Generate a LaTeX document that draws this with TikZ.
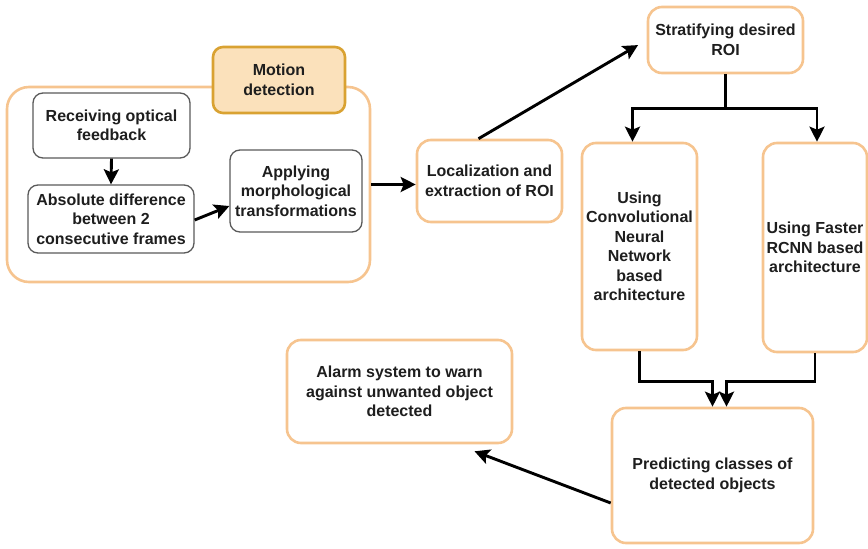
\documentclass[tikz,border=0pt]{standalone}
\usepackage{fontspec}
\setmainfont{Liberation Sans}
\usetikzlibrary{arrows.meta,positioning,calc}
\definecolor{boxorange}{HTML}{F6C48F}
\definecolor{tabfill}{HTML}{FBE1BB}
\definecolor{tabline}{HTML}{D9A232}
\definecolor{grayline}{HTML}{5A5A5A}
\definecolor{textgray}{HTML}{1E1E1E}

\begin{document}
\begin{tikzpicture}[x=1pt,y=-1pt] % one unit = one pixel of the sketch, y runs down
\tikzset{every node/.style={font=\bfseries\fontsize{16}{19.5}\selectfont, text=textgray, align=center, inner sep=0pt}}
\tikzset{obox/.style={draw=boxorange, line width=2.6pt, fill=white, rounded corners=14pt}}
\tikzset{gbox/.style={draw=grayline, line width=1.3pt, fill=white, rounded corners=10pt}}
\tikzset{tabbox/.style={draw=tabline, line width=2.6pt, fill=tabfill, rounded corners=10pt}}
\tikzset{arr/.style={line width=2.9pt, -{Stealth[length=15pt,width=15pt,inset=3pt]}}}
\useasboundingbox (0,0) rectangle (868,549);

% motion detection group
\node[obox, rounded corners=22pt, minimum width=363pt, minimum height=195pt] (motion) at (188.5,184.5) {};
\node[tabbox, minimum width=132pt, minimum height=66pt] (tab) at (279,80) {Motion\\detection};
\node[gbox, minimum width=157pt, minimum height=65pt] (recv) at (111.5,125.5) {Receiving optical\\feedback};
\node[gbox, minimum width=166pt, minimum height=68pt] (absdiff) at (111,219) {Absolute difference\\between 2\\consecutive frames};
\node[gbox, minimum width=132pt, minimum height=82pt] (morph) at (296,191) {Applying\\morphological\\transformations};

% ROI and detectors
\node[obox, minimum width=145pt, minimum height=82pt] (loc) at (489.5,181) {Localization and\\extraction of ROI};
\node[obox, minimum width=155pt, minimum height=66pt] (strat) at (725.5,40) {Stratifying desired\\ROI};
\node[obox, minimum width=115pt, minimum height=207pt] (cnn) at (639.5,246.5) {Using\\Convolutional\\Neural\\Network\\based\\architecture};
\node[obox, minimum width=104pt, minimum height=209pt] (frcnn) at (815,247.5) {Using Faster\\RCNN based\\architecture};
\node[obox, minimum width=201pt, minimum height=135pt] (pred) at (712.5,475.5) {Predicting classes of\\detected objects};
\node[obox, minimum width=225pt, minimum height=103pt] (alarm) at (399.5,391.5) {Alarm system to warn\\against unwanted object\\detected};

\coordinate (split) at ($(strat.south)+(0,34)$);

\draw[arr] (recv.south) -- (absdiff.north);
\draw[arr] ([yshift=-1pt]absdiff.east) -- ([yshift=-15pt]morph.west);
\draw[arr] (motion.east) -- (loc.west |- motion.east);
\draw[arr, shorten >=10pt] ([xshift=-11pt]loc.north) -- (strat.west);
\draw[line width=2.9pt] (strat.south) -- (split);
\draw[arr] (split) -| ([xshift=-7pt]cnn.north);
\draw[arr] (split) -| ([xshift=2pt]frcnn.north);
\draw[arr] (cnn.south) -- ++(0,30) -| (pred.north);
\draw[arr] (frcnn.south) -- ++(0,28) -| ([xshift=14pt]pred.north);
\draw[arr] ([yshift=-27.5pt]pred.west) -- ([xshift=75pt,yshift=-7pt]alarm.south);
\end{tikzpicture}
\end{document}
